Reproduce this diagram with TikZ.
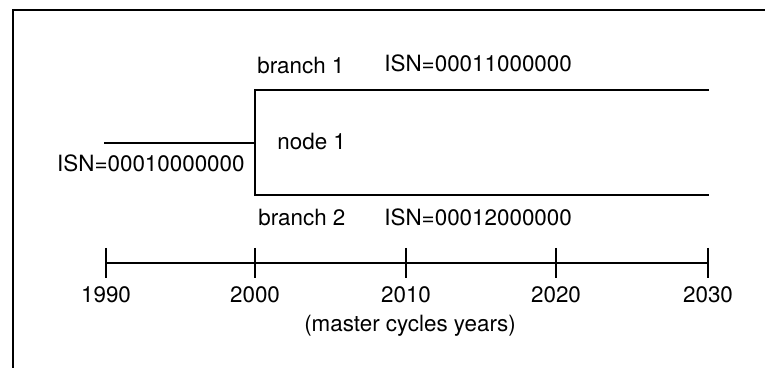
\documentclass[tikz,border=0pt]{standalone}
\usepackage{fontspec}
\setmainfont{TeX Gyre Heros}
\usetikzlibrary{positioning}
\tikzset{
  lbl/.style     = {font=\fontsize{11.2}{13}\selectfont, inner sep=0pt},
  yrlbl/.style   = {lbl, anchor=base},
  branch/.style  = {line width=0.8pt},
  axisline/.style= {line width=0.8pt},
  frameline/.style = {line width=1.4pt},
}

\begin{document}
\begin{tikzpicture}[x=0.5pt, y=-0.5pt]
  \useasboundingbox (0,0) rectangle (765,368);

  % frame (only left and top edges show)
  \coordinate (fbl) at (13,368);
  \coordinate (ftl) at (13,10);
  \coordinate (ftr) at (765,10);
  \draw[frameline] (fbl) -- (ftl) -- (ftr);

  % branching
  \coordinate (root) at (104,143);
  \coordinate (split) at (255,143);
  \coordinate (b1a) at (255,90);
  \coordinate (b1b) at (709,90);
  \coordinate (b2a) at (255,195);
  \coordinate (b2b) at (709,195);
  \draw[branch] (root) -- (split);
  \draw[branch] (b1b) -- (b1a) -- (b2a) -- (b2b);

  \node[lbl, anchor=base west] (br1)  at (257,74)  {branch 1};
  \node[lbl, anchor=base west] (isn1) at (384,72)  {ISN=00011000000};
  \node[lbl, anchor=base west] (nd1)  at (277,150) {node 1};
  \node[lbl, anchor=base east] (isn0) at (245,172) {ISN=00010000000};
  \node[lbl, anchor=base west] (br2)  at (258,226) {branch 2};
  \node[lbl, anchor=base west] (isn2) at (384,226) {ISN=00012000000};

  % time axis
  \foreach \yr/\px in {1990/106, 2000/255, 2010/406, 2020/556, 2030/708} {
    \coordinate (t\yr) at (\px,263);
    \coordinate (tu\yr) at (\px,248);
    \coordinate (td\yr) at (\px,278);
    \draw[axisline] (tu\yr) -- (td\yr);
    \node[yrlbl] (y\yr) at (\px,303) {\yr};
  }
  \draw[axisline] (t1990) -- (t2030);
  \node[yrlbl] (unit) at (410,332) {(master cycles years)};
\end{tikzpicture}
\end{document}
